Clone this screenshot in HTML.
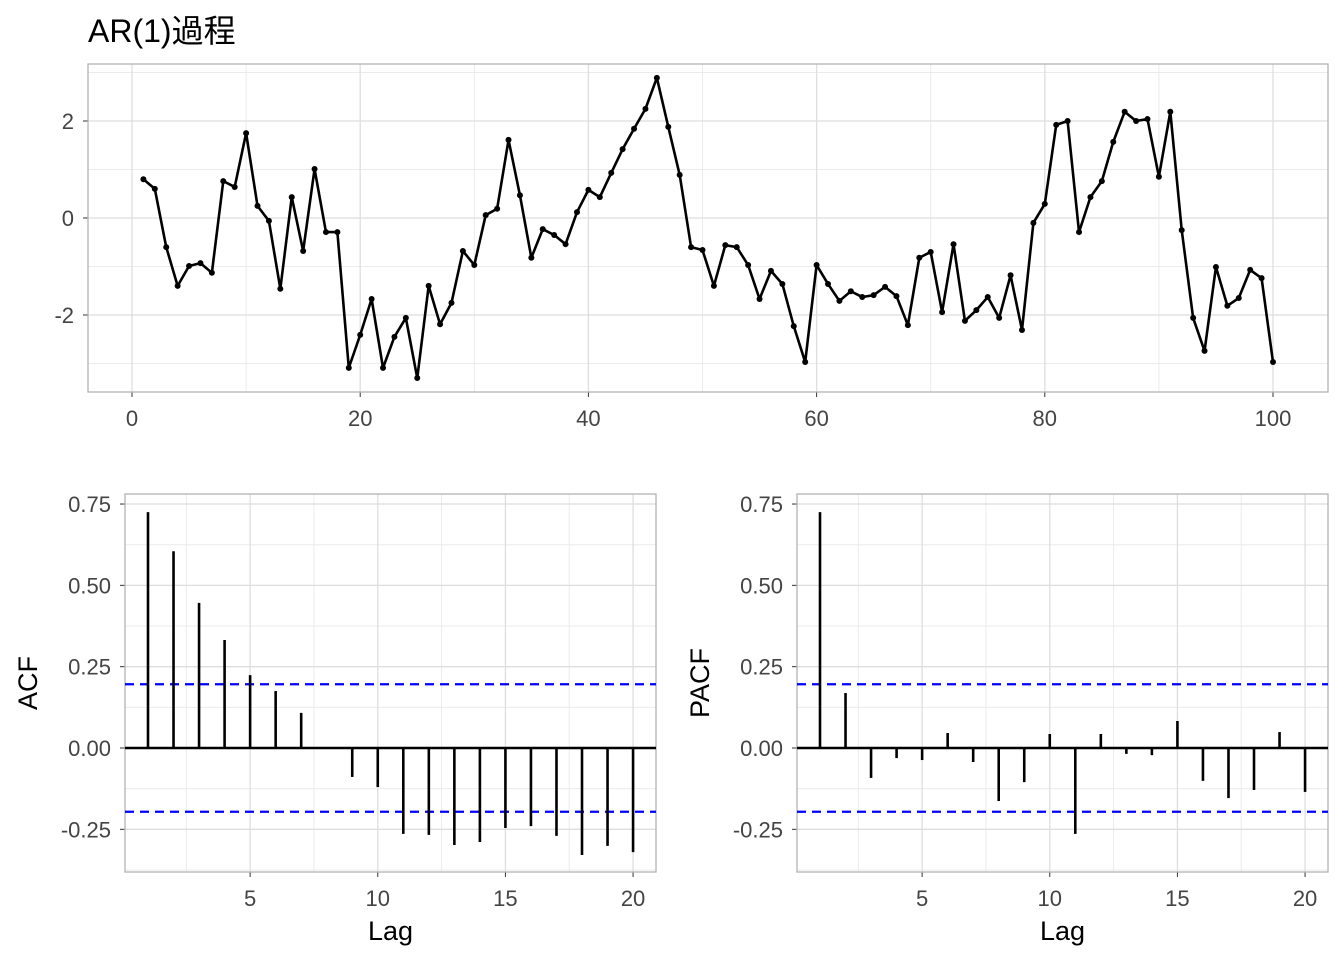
<!DOCTYPE html>
<html><head><meta charset="utf-8"><style>
body{margin:0;background:#fff;}
svg text{font-family:"Liberation Sans","Noto Sans CJK JP",sans-serif;}
</style></head><body>
<svg id="c" width="1344" height="960" xmlns="http://www.w3.org/2000/svg">
<text x="88" y="42" font-size="32" fill="#000">AR(1)過程</text>
</svg>
<script>
const seriesT = [];
const seriesY = [0.80,0.60,-0.60,-1.40,-0.99,-0.93,-1.13,0.76,0.64,1.75,0.25,-0.06,-1.46,0.43,-0.68,1.01,-0.29,-0.29,-3.09,-2.41,-1.67,-3.09,-2.45,-2.06,-3.30,-1.40,-2.19,-1.75,-0.68,-0.97,0.06,0.19,1.61,0.47,-0.82,-0.23,-0.35,-0.54,0.12,0.58,0.43,0.93,1.42,1.84,2.25,2.89,1.88,0.89,-0.60,-0.66,-1.40,-0.56,-0.60,-0.97,-1.67,-1.09,-1.36,-2.23,-2.97,-0.97,-1.36,-1.71,-1.51,-1.63,-1.59,-1.42,-1.61,-2.21,-0.82,-0.70,-1.94,-0.54,-2.12,-1.90,-1.63,-2.06,-1.18,-2.31,-0.10,0.29,1.92,2.00,-0.29,0.43,0.76,1.57,2.19,2.00,2.04,0.85,2.19,-0.25,-2.06,-2.74,-1.01,-1.81,-1.65,-1.07,-1.24,-2.97];
for(let i=0;i<seriesY.length;i++) seriesT.push(i+1);
const acfLags = [1,2,3,4,5,6,7,8,9,10,11,12,13,14,15,16,17,18,19,20];
const acfValues = [0.725,0.605,0.446,0.332,0.224,0.175,0.108,0.003,-0.089,-0.12,-0.264,-0.267,-0.298,-0.289,-0.246,-0.24,-0.27,-0.329,-0.301,-0.32];
const pacfValues = [0.725,0.169,-0.092,-0.031,-0.037,0.046,-0.043,-0.163,-0.105,0.043,-0.264,0.043,-0.018,-0.022,0.083,-0.101,-0.154,-0.129,0.049,-0.135];
const confBound = [0.196];
const topXTicks = [0,20,40,60,80,100];
const topYTicks = [-2,0,2];
const acfYTicks = [-0.25,0,0.25,0.5,0.75];
const acfYLabels = ["-0.25","0.00","0.25","0.50","0.75"];
const acfXTicks = [5,10,15,20];

const NS="http://www.w3.org/2000/svg";
const svg=document.getElementById('c');
function el(tag,attrs,parent){const e=document.createElementNS(NS,tag);for(const k in attrs)e.setAttribute(k,attrs[k]);(parent||svg).appendChild(e);return e;}

const T={l:88,r:1328,t:64,b:392};
const tx=v=>132+v*11.41, ty=v=>218-v*48.5;
const gTop=el('g',{});


for(let v=-3;v<=3;v+=2){el('line',{x1:T.l,x2:T.r,y1:ty(v),y2:ty(v),stroke:'#ebebeb','stroke-width':1},gTop);}
for(let v=10;v<=90;v+=20){el('line',{x1:tx(v),x2:tx(v),y1:T.t,y2:T.b,stroke:'#ebebeb','stroke-width':1},gTop);}
topYTicks.forEach(v=>{el('line',{x1:T.l,x2:T.r,y1:ty(v),y2:ty(v),stroke:'#dedede','stroke-width':1.3},gTop);
 const t=el('text',{x:T.l-14,y:ty(v)+8,'text-anchor':'end','font-size':22,fill:'#444'},gTop);t.textContent=v;
 });
topXTicks.forEach(v=>{el('line',{x1:tx(v),x2:tx(v),y1:T.t,y2:T.b,stroke:'#dedede','stroke-width':1.3},gTop);
 el('line',{x1:tx(v),x2:tx(v),y1:T.b,y2:T.b+5,stroke:'#333','stroke-width':1},gTop);
 const t=el('text',{x:tx(v),y:T.b+34,'text-anchor':'middle','font-size':22,fill:'#444'},gTop);t.textContent=v;
 });
topYTicks.forEach(v=>el('line',{x1:T.l-5,x2:T.l,y1:ty(v),y2:ty(v),stroke:'#333'},gTop));
el('rect',{x:T.l,y:T.t,width:T.r-T.l,height:T.b-T.t,fill:'none',stroke:'#b3b3b3','stroke-width':1.3},gTop);
const pts=seriesY.map((v,i)=>tx(seriesT[i])+','+ty(v)).join(' ');
const pl=el('polyline',{points:pts,fill:'none',stroke:'#000','stroke-width':2.6,'stroke-linejoin':'round'},gTop);


seriesY.forEach((v,i)=>{const c=el('circle',{cx:tx(seriesT[i]),cy:ty(v),r:3,fill:'#000'},gTop);
 
 });

function corr(left,right,vals,lagX0,ylabel,name){
 const P={l:left,r:right,t:494,b:872};
 const x=v=>lagX0+(v-1)*25.53, y=v=>748-v*325.3;
 const g=el('g',{});
 
 
 [-0.375,-0.125,0.125,0.375,0.625].forEach(v=>el('line',{x1:P.l,x2:P.r,y1:y(v),y2:y(v),stroke:'#ebebeb'},g));
 [2.5,7.5,12.5,17.5].forEach(v=>el('line',{x1:x(v),x2:x(v),y1:P.t,y2:P.b,stroke:'#ebebeb'},g));
 acfYTicks.forEach((v,i)=>{el('line',{x1:P.l,x2:P.r,y1:y(v),y2:y(v),stroke:'#dedede','stroke-width':1.3},g);
  el('line',{x1:P.l-5,x2:P.l,y1:y(v),y2:y(v),stroke:'#333'},g);
  const t=el('text',{x:P.l-14,y:y(v)+8,'text-anchor':'end','font-size':22,fill:'#444'},g);t.textContent=acfYLabels[i];
  });
 acfXTicks.forEach(v=>{el('line',{x1:x(v),x2:x(v),y1:P.t,y2:P.b,stroke:'#dedede','stroke-width':1.3},g);
  el('line',{x1:x(v),x2:x(v),y1:P.b,y2:P.b+5,stroke:'#333'},g);
  const t=el('text',{x:x(v),y:P.b+34,'text-anchor':'middle','font-size':22,fill:'#444'},g);t.textContent=v;
  });
 el('rect',{x:P.l,y:P.t,width:P.r-P.l,height:P.b-P.t,fill:'none',stroke:'#b3b3b3','stroke-width':1.3},g);
 el('line',{x1:P.l,x2:P.r,y1:y(0),y2:y(0),stroke:'#000','stroke-width':2.6},g);
 [confBound[0],-confBound[0]].forEach(v=>{const l=el('line',{x1:P.l,x2:P.r,y1:y(v),y2:y(v),stroke:'#0000ff','stroke-width':2.3,'stroke-dasharray':'9,6'},g);
  });
 vals.forEach((v,i)=>{const l=el('line',{x1:x(acfLags[i]),x2:x(acfLags[i]),y1:y(0),y2:y(v),stroke:'#000','stroke-width':2.6},g);
  });
 const xt=el('text',{x:(P.l+P.r)/2,y:940,'text-anchor':'middle','font-size':27,fill:'#000'},g);xt.textContent='Lag';
 
 const yt=el('text',{x:0,y:0,'text-anchor':'middle','font-size':27,fill:'#000',transform:`translate(${P.l-88},${(P.t+P.b)/2}) rotate(-90)`},g);yt.textContent=ylabel;
 
}
corr(125,656,acfValues,148,'ACF','acf-panel');
corr(797,1328,pacfValues,820,'PACF','pacf-panel');
</script>
</body></html>
